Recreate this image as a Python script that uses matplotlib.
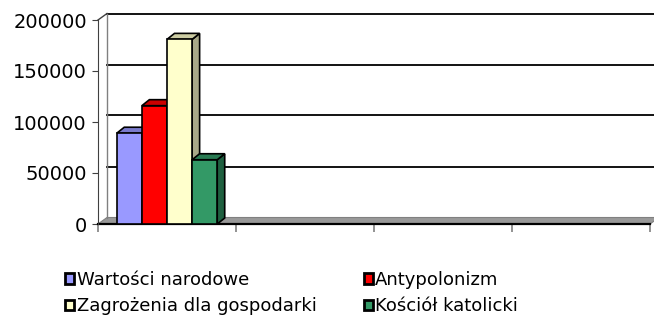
import numpy as np
import matplotlib.pyplot as plt
from matplotlib.patches import Polygon

plt.rcParams['font.family'] = ['DejaVu Sans']

#####################################################################
# data
series = ["Wartości narodowe", "Antypolonizm", "Zagrożenia dla gospodarki", "Kościół katolicki"]
values = [89000, 116000, 181000, 63000]
n_categories = 4
y_ticks = [0, 50000, 100000, 150000, 200000]
y_labels = ["0", "50000", "100000", "150000", "200000"]

front_colors = ["#9999ff", "#ff0000", "#ffffcc", "#339966"]
top_colors = ["#7a7acc", "#cc0000", "#cccca3", "#297a52"]
side_colors = ["#6b6bb3", "#b30000", "#a8a888", "#1f6040"]

#####################################################################
W, H = 654, 316
fig = plt.figure(figsize=(W / 100, H / 100), dpi=100)
ax = fig.add_axes([98 / W, 92 / H, 552 / W, 204 / H])
ax.set_xlim(0, n_categories)
ax.set_ylim(0, 200000)

px_x = n_categories / 552.0
px_y = 200000 / 204.0
wall_dx, wall_dy = 9 * px_x, 6.5 * px_y
bar_dx, bar_dy = 7.5 * px_x, 6 * px_y

# floor
floor = Polygon([(0, 0), (n_categories, 0), (n_categories + wall_dx, wall_dy), (wall_dx, wall_dy)],
                closed=True, facecolor="#999999", edgecolor="#808080", lw=0.8, clip_on=False, zorder=1)
ax.add_patch(floor)
ax.plot([0, n_categories], [0, 0], color="black", lw=1.6, clip_on=False, zorder=2)

# back wall gridlines
for t in y_ticks[1:]:
	ax.plot([wall_dx, n_categories + wall_dx], [t + wall_dy, t + wall_dy],
	        color="black", lw=1.3, clip_on=False, zorder=1)
ax.plot([wall_dx, wall_dx], [wall_dy, y_ticks[-1] + wall_dy], color="#808080", lw=1, clip_on=False, zorder=1)
ax.plot([0, wall_dx], [y_ticks[-1], y_ticks[-1] + wall_dy], color="#404040", lw=1, clip_on=False, zorder=1)

# 3d bars in first category
width = 0.182
x_left = 0.5 - 2 * width
handles = []
for i, v in enumerate(values):
	x0 = x_left + i * width
	x1 = x0 + width
	z = 3 + i
	side = Polygon([(x1, 0), (x1 + bar_dx, bar_dy), (x1 + bar_dx, v + bar_dy), (x1, v)],
	               closed=True, facecolor=side_colors[i], edgecolor="black", lw=1.2, clip_on=False, zorder=z)
	top = Polygon([(x0, v), (x1, v), (x1 + bar_dx, v + bar_dy), (x0 + bar_dx, v + bar_dy)],
	              closed=True, facecolor=top_colors[i], edgecolor="black", lw=1.2, clip_on=False, zorder=z)
	ax.add_patch(side)
	ax.add_patch(top)
	b = ax.bar(x0, v, width, align="edge", color=front_colors[i], edgecolor="black",
	           linewidth=1.2, zorder=z + 0.5, clip_on=False)
	handles.append(b)

# axes
for s in ["top", "right", "bottom"]:
	ax.spines[s].set_visible(False)
ax.spines["left"].set_color("#404040")
ax.set_yticks(y_ticks)
ax.set_yticklabels(y_labels, fontsize=14)
ax.set_xticks(range(n_categories + 1))
ax.set_xticklabels([])
ax.tick_params(axis="y", length=4, color="#404040", pad=4)
ax.tick_params(axis="x", length=6, color="#808080", width=1.2)

# legend
order = [0, 2, 1, 3]
leg = fig.legend([handles[k] for k in order], [series[k] for k in order], ncol=2,
                 loc="upper left", bbox_to_anchor=(65 / W, 1 - 271 / H), frameon=False,
                 fontsize=13, handlelength=0.5, handleheight=0.5, handletextpad=0.15,
                 columnspacing=2.6, labelspacing=0.45, borderpad=0, borderaxespad=0)
for p in leg.get_patches():
	p.set_linewidth(2)

fig.savefig("out.png", dpi=100)
